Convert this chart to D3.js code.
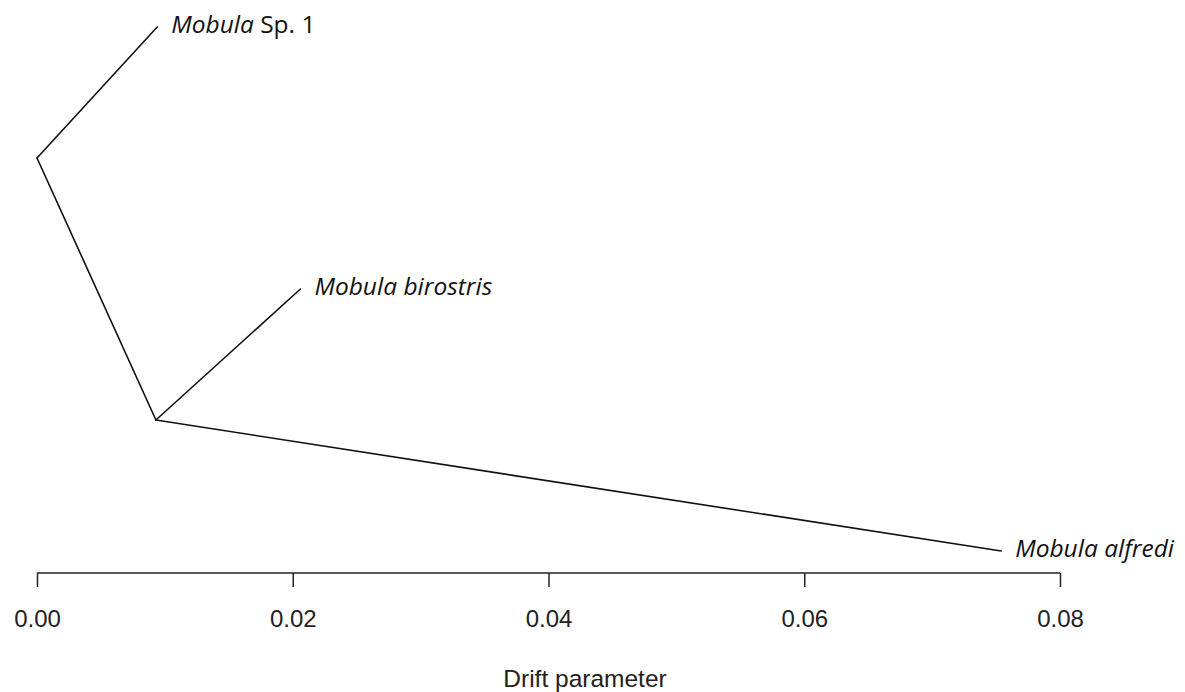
<!DOCTYPE html>
<html>
<head>
<meta charset="utf-8">
<script src="https://cdn.jsdelivr.net/npm/d3@7"></script>
<style>
  html, body { margin: 0; padding: 0; background: #fff; }
  svg { display: block; }
  .tip { font-family: "Open Sans", "Noto Sans", sans-serif; font-size: 24.5px; fill: #111; }
  .axis text { font-family: "Liberation Sans", Arial, sans-serif; font-size: 24px; fill: #222; }
  .axis line { stroke: #222; stroke-width: 1.5; }
</style>
</head>
<body>
<svg id="chart" width="1185" height="692"></svg>
<script>
// Drift tree: nodes with drift (x) and vertical rank (y)
const nodeIds    = ["root", "n1", "sp1", "birostris", "alfredi"];
const nodeDrift  = [0.0000, 0.0093, 0.0094, 0.0206, 0.0754];
const nodeRank   = [2.5, 1.5, 3, 2, 1];

// Branches as parent -> child
const edgeFrom = ["root", "root", "n1", "n1"];
const edgeTo   = ["sp1", "n1", "birostris", "alfredi"];

// Tip labels: genus (italic) + rest
const tipIds         = ["sp1", "birostris", "alfredi"];
const tipGenus       = ["Mobula", "Mobula", "Mobula"];
const tipRest        = [" Sp. 1", " birostris", " alfredi"];
const tipRestItalic  = [false, true, true];

const tickValues = [0, 0.02, 0.04, 0.06, 0.08];
const xTitle = "Drift parameter";

const svg = d3.select("#chart");
// plotting region extends past the last tick to leave room for tip labels
const plotLeft = 37, plotRight = 1133;
const x = d3.scaleLinear().domain([0, 0.08]).range([plotLeft, 1060]);
const y = d3.scaleLinear().domain([1, 3]).range([551, 27]);

const nodes = new Map(nodeIds.map((id, i) => [id, { x: nodeDrift[i], y: nodeRank[i] }]));

// branches
svg.append("g")
  .selectAll("line")
  .data(edgeFrom.map((f, i) => [nodes.get(f), nodes.get(edgeTo[i])]))
  .join("line")
  .attr("x1", d => x(d[0].x)).attr("y1", d => y(d[0].y))
  .attr("x2", d => x(d[1].x)).attr("y2", d => y(d[1].y))
  .attr("stroke", "#111")
  .attr("stroke-width", 1.6)
  .attr("stroke-linecap", "round");

// tip labels
const labels = svg.append("g")
  .selectAll("text")
  .data(tipIds.map((id, i) => ({ n: nodes.get(id), i })))
  .join("text")
  .attr("class", "tip")
  .attr("x", d => x(d.n.x) + 14)
  .attr("y", d => y(d.n.y))
  .attr("dy", "0.26em");
labels.append("tspan").attr("font-style", "italic").text(d => tipGenus[d.i]);
labels.append("tspan")
  .attr("font-style", d => tipRestItalic[d.i] ? "italic" : "normal")
  .text(d => tipRest[d.i]);

// drift axis (line spans first to last tick)
const axis = d3.axisBottom(x)
  .tickValues(tickValues)
  .tickFormat(d3.format(".2f"))
  .tickSize(14)
  .tickSizeOuter(0)
  .tickPadding(23);
const gAxis = svg.append("g")
  .attr("class", "axis")
  .attr("transform", "translate(0,573)")
  .call(axis);
gAxis.select(".domain").remove();
gAxis.append("line")
  .attr("x1", x(tickValues[0])).attr("x2", x(tickValues[tickValues.length - 1]))
  .attr("y1", 0).attr("y2", 0);

svg.append("text")
  .attr("x", (plotLeft + plotRight) / 2)
  .attr("y", 687)
  .attr("text-anchor", "middle")
  .attr("font-family", "Liberation Sans, Arial, sans-serif")
  .attr("font-size", 24.5)
  .attr("fill", "#222")
  .text(xTitle);
</script>
</body>
</html>
